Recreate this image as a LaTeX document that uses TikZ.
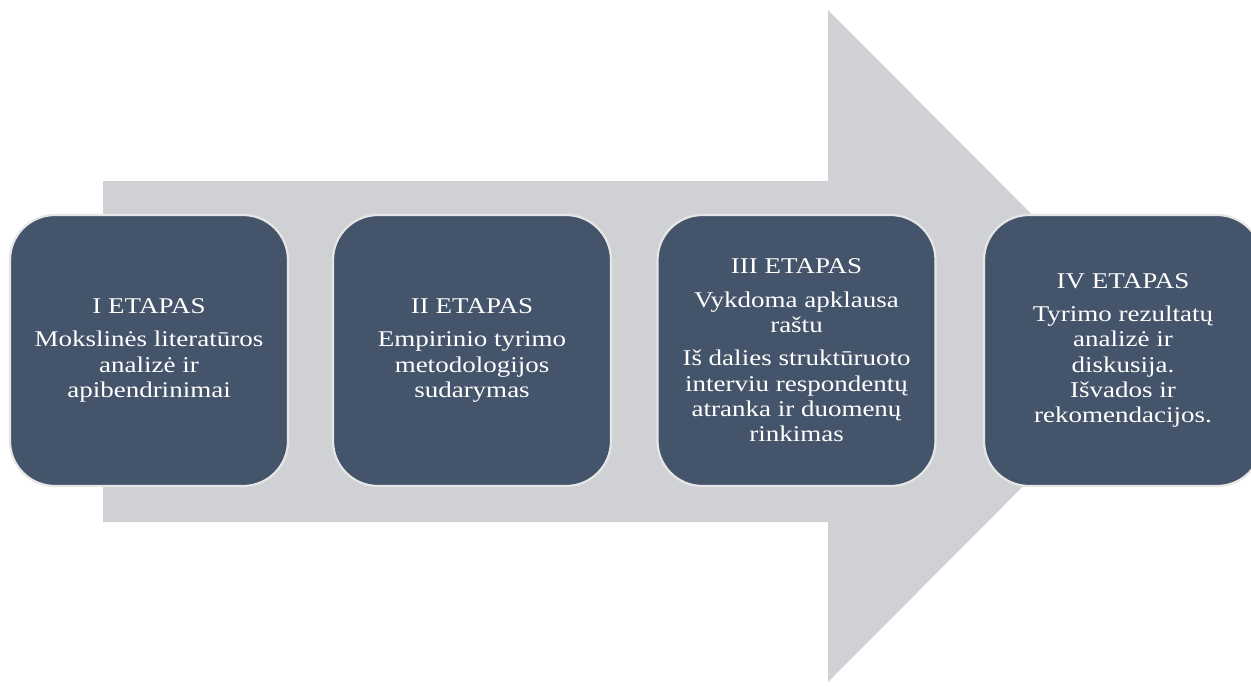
\documentclass[tikz,border=0pt]{standalone}
\usepackage{fontspec}
\setmainfont{Liberation Serif}[FakeStretch=1.2]
\definecolor{arrowgray}{HTML}{D0D1D5}
\definecolor{boxfill}{HTML}{44546A}
\definecolor{boxline}{HTML}{E6E6E6}
\begin{document}
\begin{tikzpicture}[x=1pt,y=-1pt,
  stage/.style={draw=boxline, line width=2.2pt, fill=boxfill, rounded corners=45pt,
    minimum width=278pt, minimum height=271pt, inner sep=0pt,
    text=white, align=center, font=\fontsize{22.5}{25.3}\selectfont}]
\useasboundingbox (0,0) rectangle (1251,686);
\clip (0,0) rectangle (1251,686);
\fill[arrowgray] (103,181) -- (828,181) -- (828,10) -- (1163,346) -- (828,682) -- (828,522) -- (103,522) -- cycle;
\node[stage] (s1) at (149,350.5) {I ETAPAS\\[8pt]Mokslinės literatūros\\analizė ir\\apibendrinimai};
\node[stage] (s2) at (472,350.5) {II ETAPAS\\[8pt]Empirinio tyrimo\\metodologijos\\sudarymas};
\node[stage] (s3) at (796.5,350.5) {III ETAPAS\\[8pt]Vykdoma apklausa\\raštu\\[8pt]Iš dalies struktūruoto\\interviu respondentų\\atranka ir duomenų\\rinkimas};
\node[stage] (s4) at (1123,350.5) {IV ETAPAS\\[8pt]Tyrimo rezultatų\\analizė ir\\diskusija.\\Išvados ir\\rekomendacijos.};
\end{tikzpicture}
\end{document}
